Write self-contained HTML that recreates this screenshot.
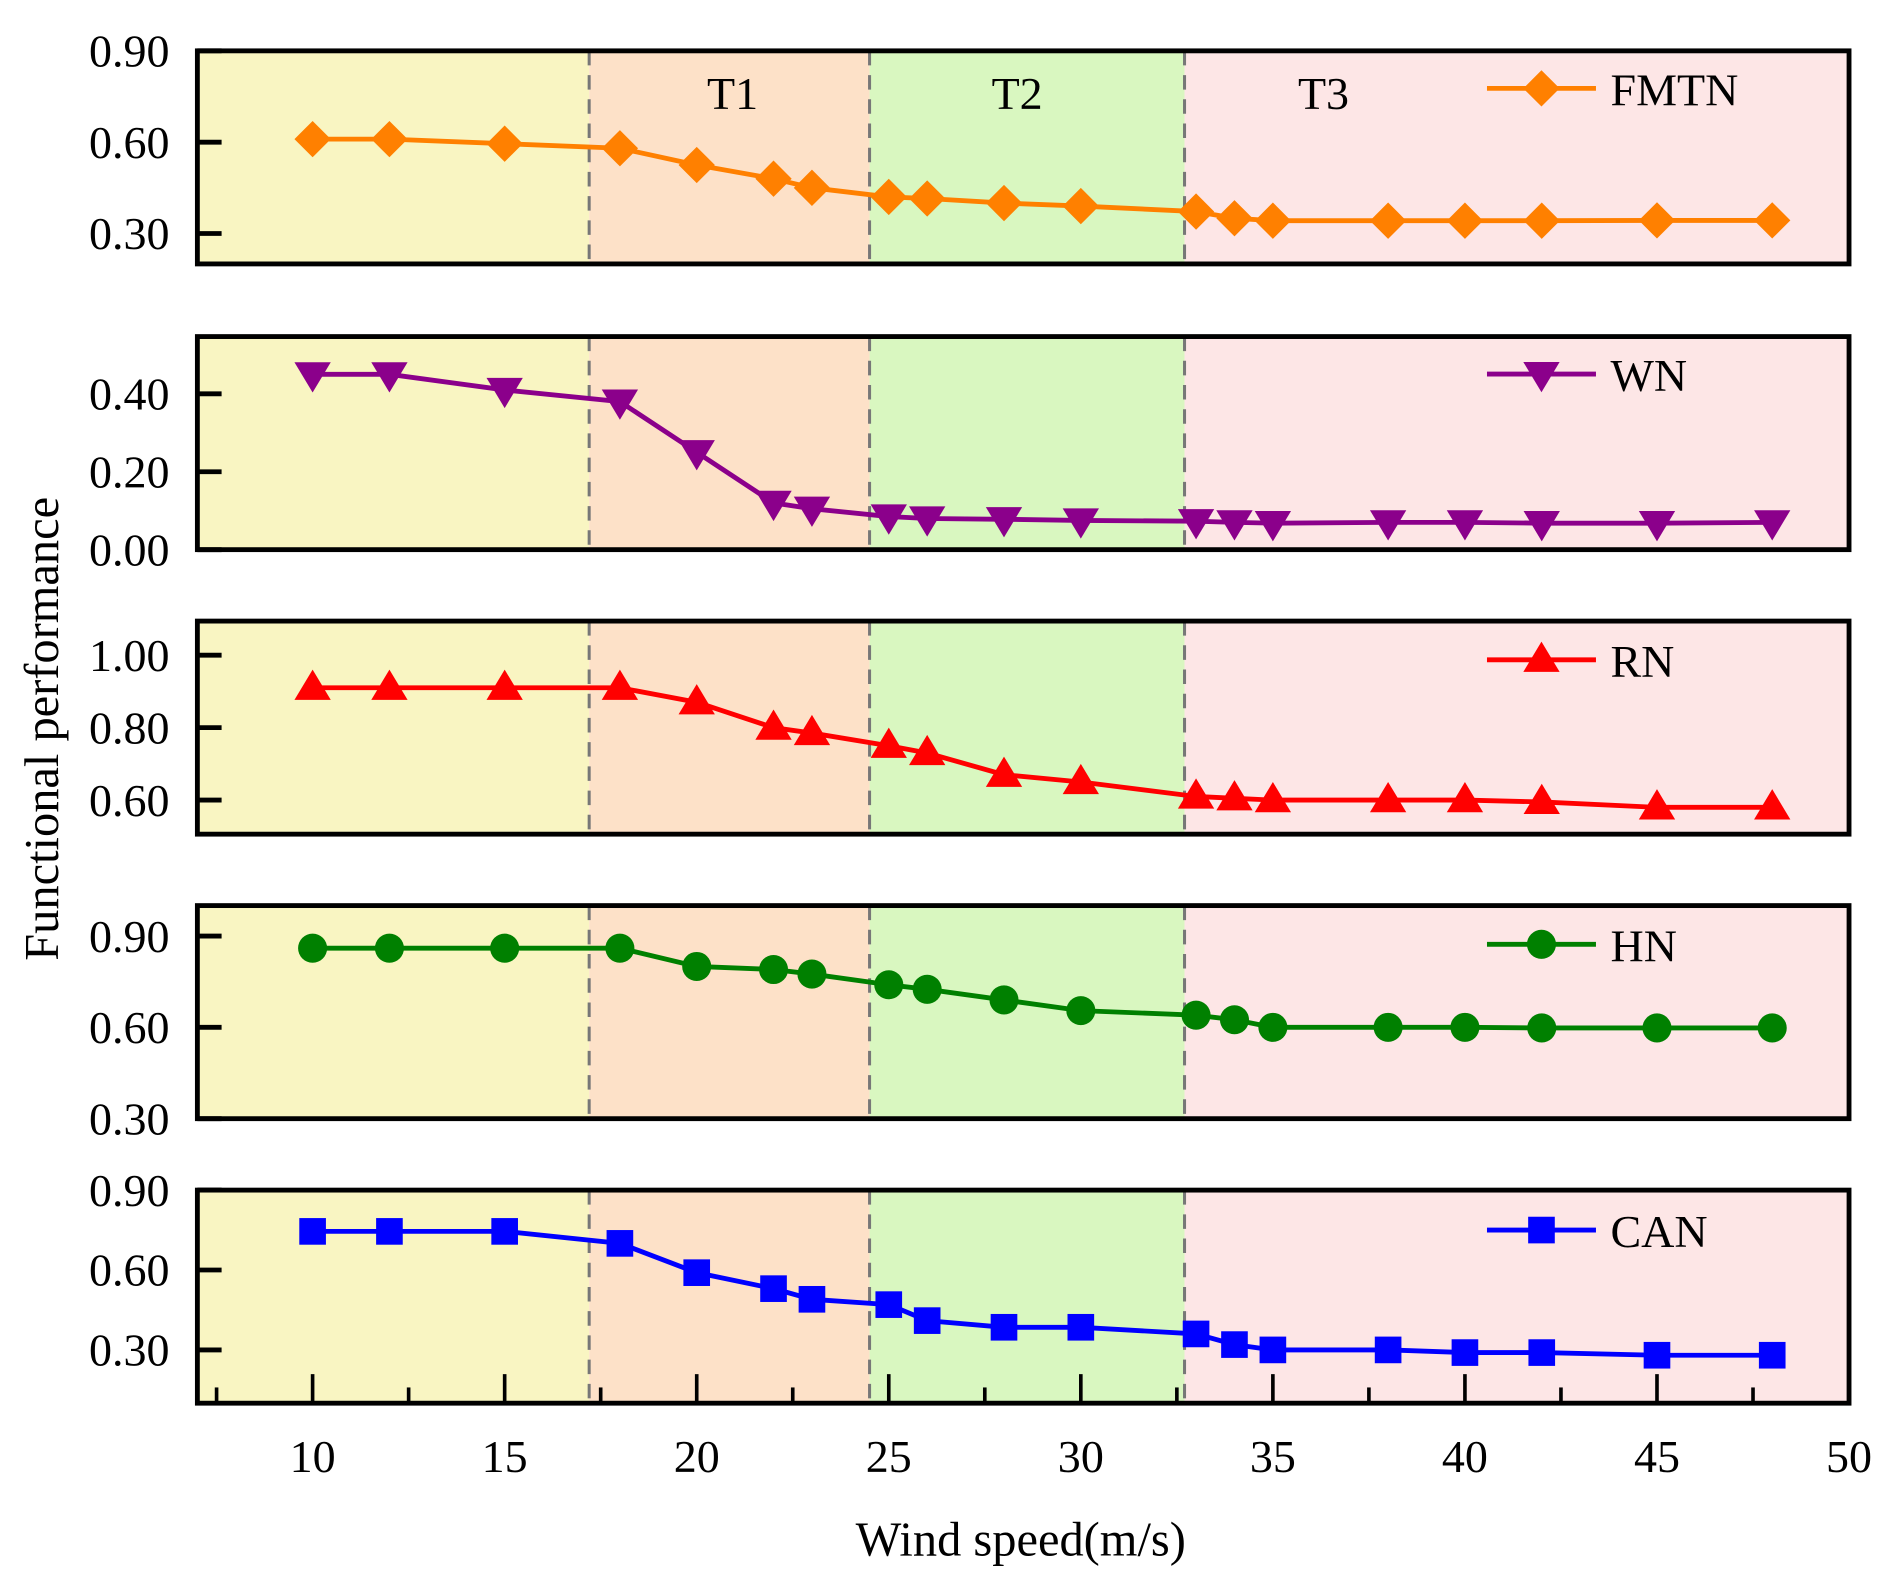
<!DOCTYPE html>
<html><head><meta charset="utf-8"><style>
html,body{margin:0;padding:0;background:#fff}
svg{display:block;font-family:"Liberation Serif",serif}
</style></head><body>
<svg id="chart" width="1889" height="1586" viewBox="0 0 1560 1310" preserveAspectRatio="none" xmlns="http://www.w3.org/2000/svg">
<g id="bg"></g><g id="plots"></g>
<text x="843" y="1285" font-size="40" text-anchor="middle">Wind speed(m/s)</text>
<text transform="translate(48,602) rotate(-90)" font-size="40" text-anchor="middle">Functional performance</text>
</svg>
<script>
const windSpeeds=[10,12,15,18,20,22,23,25,26,28,30,33,34,35,38,40,42,45,48];
const fmtnValues=[0.61,0.61,0.595,0.58,0.525,0.48,0.45,0.42,0.415,0.40,0.39,0.372,0.35,0.342,0.342,0.342,0.342,0.343,0.343];
const wnValues=[0.45,0.45,0.41,0.38,0.25,0.12,0.105,0.085,0.08,0.078,0.075,0.073,0.07,0.068,0.07,0.07,0.068,0.068,0.07];
const rnValues=[0.91,0.91,0.91,0.91,0.87,0.80,0.785,0.75,0.73,0.67,0.65,0.61,0.605,0.60,0.60,0.60,0.595,0.58,0.58];
const hnValues=[0.86,0.86,0.86,0.86,0.80,0.79,0.775,0.74,0.725,0.69,0.655,0.64,0.625,0.60,0.60,0.60,0.598,0.598,0.598];
const canValues=[0.745,0.745,0.745,0.70,0.59,0.53,0.49,0.47,0.41,0.385,0.385,0.36,0.32,0.30,0.30,0.29,0.29,0.28,0.28];
const xTicks=[10,15,20,25,30,35,40,45,50];
const stageBounds=[7,17.2,24.5,32.7,50];
const stageLabels=["","T1","T2","T3"];
const series=[
 {name:"FMTN",vals:fmtnValues,color:"#ff8000",marker:"diamond",dom:[0.2,0.9],ticks:[0.30,0.60,0.90],top:42},
 {name:"WN",vals:wnValues,color:"#8b008b",marker:"tridown",dom:[0,0.547],ticks:[0.00,0.20,0.40],top:278},
 {name:"RN",vals:rnValues,color:"#ff0000",marker:"triup",dom:[0.506,1.094],ticks:[0.60,0.80,1.00],top:513},
 {name:"HN",vals:hnValues,color:"#008000",marker:"circle",dom:[0.3,1.0],ticks:[0.30,0.60,0.90],top:748},
 {name:"CAN",vals:canValues,color:"#0000ff",marker:"square",dom:[0.1,0.9],ticks:[0.30,0.60,0.90],top:983}
];
const NS="http://www.w3.org/2000/svg";
const L=163,R=1527,H=176;
const xs=v=>L+(v-7)*(R-L)/(50-7);
const fills=["#f9f5c2","#fde1c8","#d9f7c0","#fde6e6"];
const plots=document.getElementById('plots');
function mk(tag,attrs,parent){const e=document.createElementNS(NS,tag);for(const k in attrs)e.setAttribute(k,attrs[k]);parent.appendChild(e);return e;}
function marker(type,x,y,color,g){
 let e;
 if(type==="diamond")e=mk('polygon',{points:`${x},${y-15} ${x+15},${y} ${x},${y+15} ${x-15},${y}`,fill:color},g);
 else if(type==="tridown")e=mk('polygon',{points:`${x-15},${y-10} ${x+15},${y-10} ${x},${y+15}`,fill:color},g);
 else if(type==="triup")e=mk('polygon',{points:`${x-15},${y+10} ${x+15},${y+10} ${x},${y-15}`,fill:color},g);
 else if(type==="circle")e=mk('circle',{cx:x,cy:y,r:12,fill:color},g);
 else e=mk('rect',{x:x-11,y:y-11,width:22,height:22,fill:color},g);
 return e;
}
series.forEach((s,pi)=>{
 const g=mk('g',{},plots);
 
 
 const top=s.top,bot=top+H;
 const ys=v=>bot-(v-s.dom[0])*H/(s.dom[1]-s.dom[0]);
 for(let i=0;i<4;i++){
  const r=mk('rect',{x:xs(stageBounds[i]),y:top,width:xs(stageBounds[i+1])-xs(stageBounds[i]),height:H,fill:fills[i]},g);
  
  
 }
 for(let i=1;i<4;i++){
  const d=mk('line',{x1:xs(stageBounds[i]),x2:xs(stageBounds[i]),y1:top,y2:bot,stroke:"#777","stroke-width":2.5,"stroke-dasharray":"12,8"},g);
  
  
 }
 if(pi===0){
  const lx=[0,605,840,1093];
  for(let i=1;i<4;i++){
   const t=mk('text',{x:lx[i],y:90,"font-size":38,"text-anchor":"middle"},g);
   t.textContent=stageLabels[i];
   
   
  }
 }
 const pts=s.vals.map((v,i)=>xs(windSpeeds[i])+","+ys(v)).join(" ");
 const pl=mk('polyline',{points:pts,fill:"none",stroke:s.color,"stroke-width":4},g);
 
 
 s.vals.forEach((v,i)=>{
  const m=marker(s.marker,xs(windSpeeds[i]),ys(v),s.color,g);
  
  
 });
 s.ticks.forEach(t=>{
  const y=ys(t);
  const tk=mk('line',{x1:L,x2:L+20,y1:y,y2:y,stroke:"#000","stroke-width":4},g);
  
  
  const tl=mk('text',{x:140,y:y+13,"font-size":38,"text-anchor":"end"},g);
  tl.textContent=t.toFixed(2);
  
  
 });
 const fr=mk('rect',{x:L,y:top,width:R-L,height:H,fill:"none",stroke:"#000","stroke-width":4},g);
 
 
 const ly=[73,309,545,780,1016][pi];
 const lg=mk('g',{},g);
 
 
 mk('line',{x1:1228,x2:1318,y1:ly,y2:ly,stroke:s.color,"stroke-width":4},lg);
 marker(s.marker,1273,ly,s.color,lg);
 const lt=mk('text',{x:1330,y:ly+14,"font-size":38},lg);
 lt.textContent=s.name;
 if(pi===4){
  for(let v=7.5;v<50;v+=2.5){
   const major=(v%5===0);
   const tk=mk('line',{x1:xs(v),x2:xs(v),y1:bot,y2:bot-(major?24:13),stroke:"#000","stroke-width":3},g);
   
   
  }
  xTicks.forEach(t=>{
   const tl=mk('text',{x:xs(t),y:1216,"font-size":38,"text-anchor":"middle"},g);
   tl.textContent=t;
   
   
  });
 }
});
</script>
</body></html>
